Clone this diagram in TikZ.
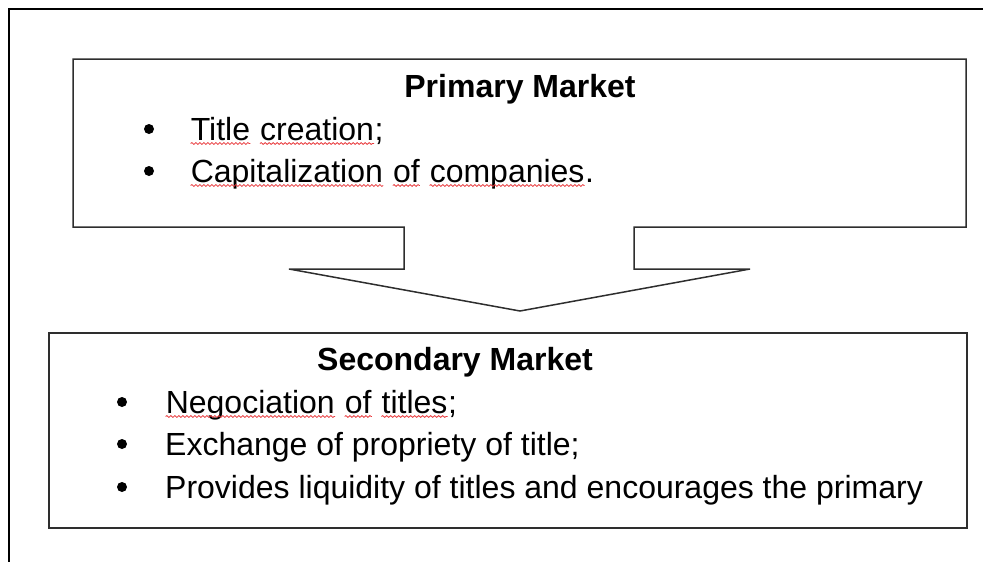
\documentclass[tikz,border=0pt]{standalone}
\usepackage{fontspec}
\setmainfont{Liberation Sans}
\usepackage{tikz}
\usetikzlibrary{calc,decorations.pathmorphing}
\definecolor{boxline}{HTML}{2E2E2E}
\definecolor{spellred}{HTML}{E8393C}
\newcommand{\spellwave}[1]{\tikz[baseline=(sw.base)]{\node[inner sep=0pt,anchor=base] (sw) at (0,0) {#1};
    \draw[spellred,line width=0.8pt,decorate,decoration={snake,amplitude=0.9pt,segment length=4pt}] ($(sw.base west)+(0pt,-3.5pt)$) -- ($(sw.base east)+(0pt,-3.5pt)$);}}

\begin{document}
\begin{tikzpicture}[x=1pt,y=-1pt,
    heading/.style={anchor=base,inner sep=0pt,font=\fontsize{32}{38}\selectfont\bfseries},
    itemtext/.style={anchor=base west,inner sep=0pt,font=\fontsize{32}{38}\selectfont},
    bulletdot/.style={fill=black}]
    \useasboundingbox (0,0) rectangle (983,562);
    % outer frame (only top and left edges show)
    \draw[line width=2pt] (9,562) -- (9,9) -- (983,9);
    % primary market box with its arrow
    \draw[line width=1.5pt,boxline,line join=miter] (73,59) -- (966,59) -- (966,227) -- (634,227) -- (634,269) -- (750,269) -- (520,311) -- (289,269) -- (404,269) -- (404,227) -- (73,227) -- cycle;
    \node[heading] (primary) at (520,97) {Primary Market};
    \node[itemtext] (creation) at (190,140) {\spellwave{Title} \spellwave{creation};};
    \node[itemtext] (capital) at (190,182) {\spellwave{Capitalization} \spellwave{of} \spellwave{companies}.};
    \fill[bulletdot] (149,129) circle (5pt);
    \fill[bulletdot] (149,171) circle (5pt);
    % secondary market box
    \node[draw,line width=1.5pt,boxline,minimum width=918pt,minimum height=195pt,inner sep=0pt] (secondary) at (508,430.5) {};
    \node[heading] (sectitle) at (455,370) {Secondary Market};
    \node[itemtext] (negociation) at (165,413) {\spellwave{Negociation} \spellwave{of} \spellwave{titles};};
    \node[itemtext] (exchange) at (165,455) {Exchange of propriety of title;};
    \node[itemtext] (liquidity) at (165,498) {Provides liquidity of titles and encourages the primary};
    \fill[bulletdot] (122,402) circle (5pt);
    \fill[bulletdot] (122,444) circle (5pt);
    \fill[bulletdot] (122,487) circle (5pt);
\end{tikzpicture}
\end{document}
